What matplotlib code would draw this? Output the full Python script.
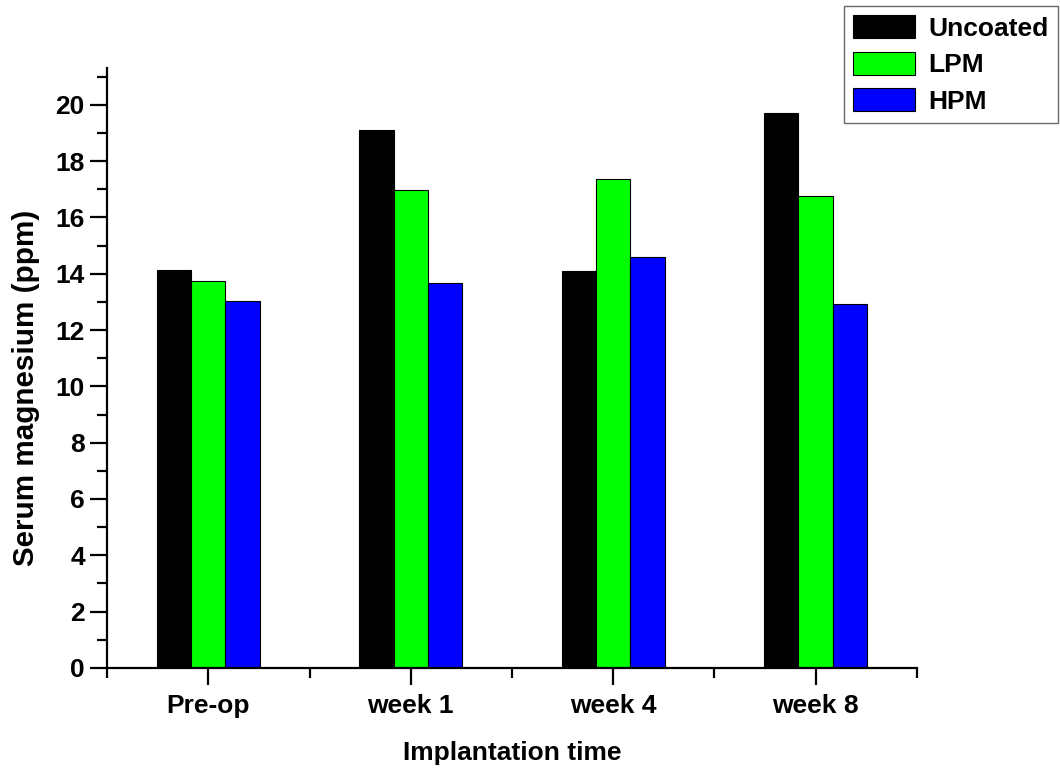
import matplotlib
matplotlib.use("Agg")
import matplotlib.pyplot as plt
from matplotlib.ticker import MultipleLocator, FixedLocator
import numpy as np

categories = ["Pre-op", "week 1", "week 4", "week 8"]
uncoated = [14.14, 19.11, 14.10, 19.72]
lpm = [13.74, 16.98, 17.37, 16.77]
hpm = [13.04, 13.68, 14.60, 12.93]

series_names = ["Uncoated", "LPM", "HPM"]
colors = ["#000000", "#00FF00", "#0000FF"]

plt.rcParams['font.family'] = ['Liberation Sans', 'DejaVu Sans']
plt.rcParams['font.weight'] = 'bold'

fig = plt.figure(figsize=(10.6, 7.74), dpi=100)
ax = fig.add_axes([0.101, 0.137, 0.764, 0.775])

x = np.arange(1, len(categories) + 1)
w = 0.17
for i, (vals, name, c) in enumerate(zip([uncoated, lpm, hpm], series_names, colors)):
    ax.bar(x + (i - 1) * w, vals, width=w, color=c, edgecolor="black",
           linewidth=0.8, label=name)

ax.set_xlim(0.5, 4.5)
ax.set_ylim(0, 21.3)
ax.set_xticks(x)
ax.set_xticklabels(categories)
ax.xaxis.set_minor_locator(FixedLocator([0.5, 1.5, 2.5, 3.5, 4.5]))
ax.yaxis.set_major_locator(MultipleLocator(2))
ax.yaxis.set_minor_locator(MultipleLocator(1))

ax.spines['top'].set_visible(False)
ax.spines['right'].set_visible(False)
for s in ['left', 'bottom']:
    ax.spines[s].set_linewidth(1.6)

ax.tick_params(which='major', direction='out', length=12, width=1.6, labelsize=19, pad=4)
ax.tick_params(which='minor', direction='out', length=7, width=1.6)
ax.tick_params(axis='x', which='major', pad=7)
for lab in ax.get_xticklabels() + ax.get_yticklabels():
    lab.set_fontweight('bold')

ax.set_xlabel("Implantation time", fontsize=19, fontweight='bold', labelpad=16)
ax.set_ylabel("Serum magnesium (ppm)", fontsize=21.3, fontweight='bold')
ax.yaxis.set_label_coords(-0.083, 0.467)

handles, labels = ax.get_legend_handles_labels()
leg = fig.legend(handles, labels, loc='upper right', bbox_to_anchor=(1058 / 1060, 1 - 6 / 774),
                 fontsize=19, frameon=True, fancybox=False, handlelength=2.35,
                 handleheight=0.95, labelspacing=0.42, borderpad=0.35, handletextpad=0.5,
                 borderaxespad=0)
leg.get_frame().set_edgecolor('#444444')
leg.get_frame().set_linewidth(1.0)
for t in leg.get_texts():
    t.set_fontweight('bold')

fig.savefig("out.png", dpi=100)
